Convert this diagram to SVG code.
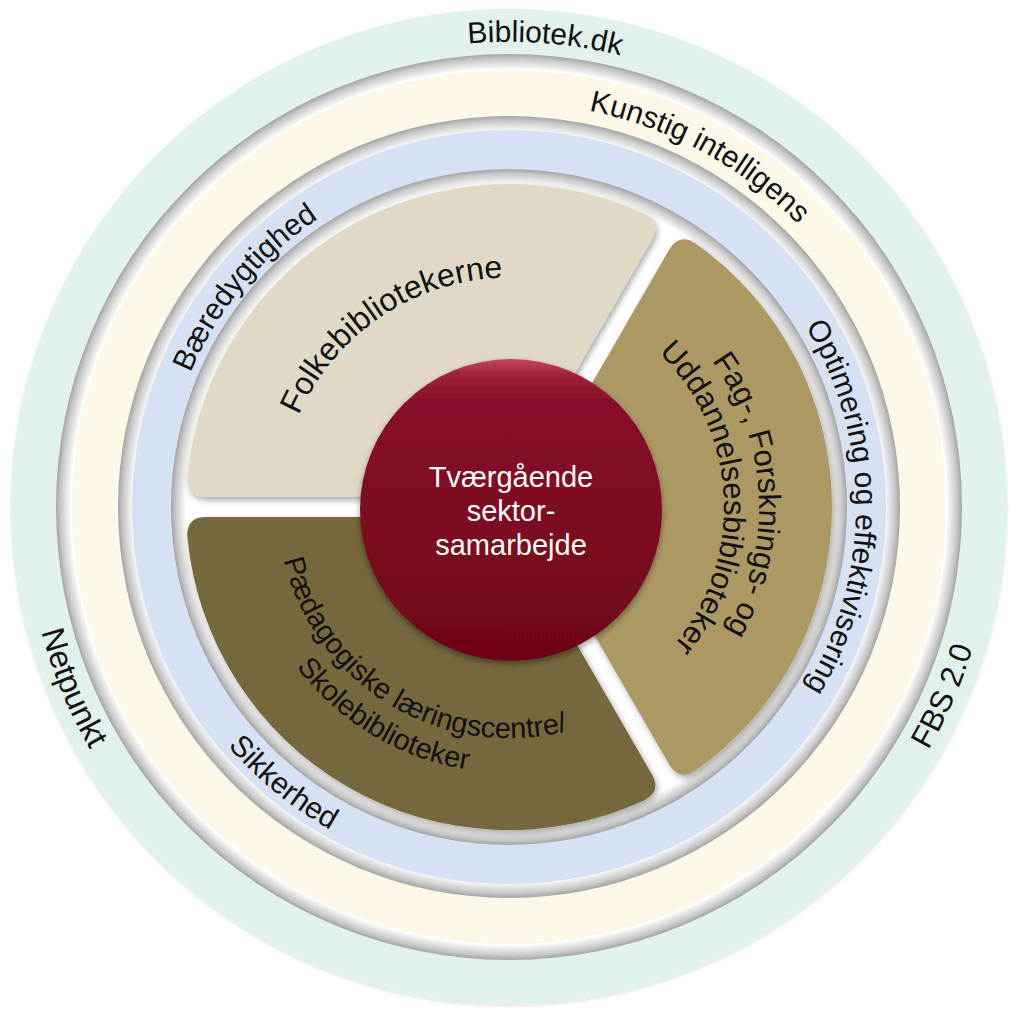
<svg xmlns="http://www.w3.org/2000/svg" xmlns:xlink="http://www.w3.org/1999/xlink" width="1010" height="1014" viewBox="0 0 1010 1014">
<style>
  .t { font-family: "Liberation Sans", Arial, sans-serif; fill: #111; }
  .ring { font-size: 30px; }
  .sec { font-size: 30px; }
  .ctr { font-family: "Liberation Sans", Arial, sans-serif; font-size: 29px; fill: #fff; text-anchor: middle; }
</style>
<defs>
  <radialGradient id="sg1" gradientUnits="userSpaceOnUse" cx="509" cy="507" r="453">
    <stop offset="0.966" stop-color="#000" stop-opacity="0"/>
    <stop offset="0.99" stop-color="#000" stop-opacity="0.22"/>
    <stop offset="1" stop-color="#000" stop-opacity="0.36"/>
  </radialGradient>
  <radialGradient id="sg2" gradientUnits="userSpaceOnUse" cx="509" cy="507" r="391">
    <stop offset="0.96" stop-color="#000" stop-opacity="0"/>
    <stop offset="0.988" stop-color="#000" stop-opacity="0.22"/>
    <stop offset="1" stop-color="#000" stop-opacity="0.36"/>
  </radialGradient>
  <radialGradient id="sg3" gradientUnits="userSpaceOnUse" cx="509" cy="507" r="338">
    <stop offset="0.955" stop-color="#000" stop-opacity="0"/>
    <stop offset="0.986" stop-color="#000" stop-opacity="0.22"/>
    <stop offset="1" stop-color="#000" stop-opacity="0.36"/>
  </radialGradient>
  <linearGradient id="red" x1="0" y1="0" x2="0" y2="1">
    <stop offset="0" stop-color="#c44a61"/>
    <stop offset="0.05" stop-color="#a0223a"/>
    <stop offset="0.14" stop-color="#87102a"/>
    <stop offset="0.6" stop-color="#7c0b1f"/>
    <stop offset="1" stop-color="#6c0517"/>
  </linearGradient>
  <filter id="shadow" x="-10%" y="-10%" width="125%" height="125%">
    <feDropShadow dx="2" dy="3" stdDeviation="3" flood-color="#000" flood-opacity="0.35"/>
  </filter>
  <filter id="cshadow" x="-10%" y="-10%" width="125%" height="125%">
    <feDropShadow dx="0" dy="3" stdDeviation="3" flood-color="#000" flood-opacity="0.4"/>
  </filter>
  <filter id="oshadow" x="-5%" y="-5%" width="110%" height="110%">
    <feDropShadow dx="0" dy="1" stdDeviation="1.5" flood-color="#000" flood-opacity="0.15"/>
  </filter>
  <path id="p-bib" d="M 43.38 471.17 A 467 467 0 0 1 974.62 542.83"/>
  <path id="p-ki" d="M 153.08 313.75 A 405 405 0 0 1 864.92 700.25"/>
  <path id="p-baer" d="M 287.35 773.98 A 347 347 0 0 1 730.65 240.02"/>
  <path id="p-opt" d="M 509 160 A 347 347 0 0 1 509 854"/>
  <path id="p-sik" d="M 221.91 272.02 A 371 371 0 0 0 796.09 741.98"/>
  <path id="p-net" d="M 323.78 59.84 A 484 484 0 0 0 694.22 954.16"/>
  <path id="p-fbs" d="M 315.21 952.69 A 486 486 0 0 0 702.79 61.31"/>
  <path id="p-folk" d="M 318.32 635.61 A 230 230 0 0 1 699.68 378.39"/>
  <path id="p-fag1" d="M 495.92 257.34 A 250 250 0 0 1 522.08 756.66"/>
  <path id="p-fag2" d="M 497.75 292.29 A 215 215 0 0 1 520.25 721.71"/>
  <path id="p-paed1" d="M 310.14 387.51 A 232 232 0 0 0 707.86 626.49"/>
  <path id="p-paed2" d="M 280.99 370.00 A 266 266 0 0 0 737.01 644.00"/>
</defs>
<rect width="1010" height="1014" fill="#fff"/>

<g id="ring-outer">
  <circle cx="509" cy="507" r="498" fill="#e1f1eb" filter="url(#oshadow)"/>
  <circle cx="509" cy="507" r="453" fill="#fff"/>
  <circle cx="509" cy="507" r="453" fill="url(#sg1)"/>
  <text class="t ring"><textPath href="#p-bib" startOffset="50%" text-anchor="middle">Bibliotek.dk</textPath></text>
  <text class="t ring" style="font-size:32px"><textPath href="#p-net" startOffset="50%" text-anchor="middle">Netpunkt</textPath></text>
  <text class="t ring" style="font-size:31px"><textPath href="#p-fbs" startOffset="50%" text-anchor="middle">FBS 2.0</textPath></text>
</g>

<g id="ring-middle">
  <circle cx="509" cy="507" r="437" fill="#fdf8e7"/>
  <circle cx="509" cy="507" r="391" fill="#fff"/>
  <circle cx="509" cy="507" r="391" fill="url(#sg2)"/>
  <text class="t ring"><textPath href="#p-ki" startOffset="50%" text-anchor="middle">Kunstig intelligens</textPath></text>
</g>

<g id="ring-inner">
  <circle cx="509" cy="507" r="377" fill="#d6e2f4"/>
  <circle cx="509" cy="507" r="338" fill="#fff"/>
  <circle cx="509" cy="507" r="338" fill="url(#sg3)"/>
  <text class="t ring"><textPath href="#p-baer" startOffset="50%" text-anchor="middle">Bæredygtighed</textPath></text>
  <text class="t ring"><textPath href="#p-opt" startOffset="50%" text-anchor="middle">Optimering og effektivisering</textPath></text>
  <text class="t ring"><textPath href="#p-sik" startOffset="50%" text-anchor="middle">Sikkerhed</textPath></text>
</g>

<g id="sector-folke">
  <path d="M 503.2 497 L 206.15 497 Q 186.15 497 187.39 477.05 A 323 323 0 0 1 643.88 213.51 Q 661.77 222.41 651.77 239.73 Z" fill="#e0d9c6" filter="url(#shadow)"/>
  <text class="t sec" style="font-size:32px"><textPath href="#p-folk" startOffset="50%" text-anchor="middle">Folkebibliotekerne</textPath></text>
</g>

<g id="sector-fag">
  <path d="M 520.55 507 L 669.09 249.73 Q 679.09 232.41 695.68 243.41 A 323 323 0 0 1 695.68 770.59 Q 679.09 781.59 669.09 764.27 Z" fill="#ab9864" filter="url(#shadow)"/>
  <text class="t sec" style="font-size:31px"><textPath href="#p-fag1" startOffset="50%" text-anchor="middle">Fag-, Forsknings- og</textPath></text>
  <text class="t sec" style="font-size:31px"><textPath href="#p-fag2" startOffset="50%" text-anchor="middle">Uddannelsesbiblioteker</textPath></text>
</g>

<g id="sector-paed">
  <path d="M 503.2 517 L 651.77 774.27 Q 661.77 791.59 643.88 800.49 A 323 323 0 0 1 187.39 536.95 Q 186.15 517 206.15 517 Z" fill="#75673c" filter="url(#shadow)"/>
  <text class="t sec" style="font-size:29px"><textPath href="#p-paed1" startOffset="50%" text-anchor="middle">Pædagogiske læringscentre/</textPath></text>
  <text class="t sec" style="font-size:29px"><textPath href="#p-paed2" startOffset="50%" text-anchor="middle">Skolebiblioteker</textPath></text>
</g>

<g id="center">
  <circle cx="511" cy="510" r="151" fill="url(#red)" filter="url(#cshadow)"/>
  <text class="ctr" x="511" y="487">Tværgående</text>
  <text class="ctr" x="511" y="521">sektor-</text>
  <text class="ctr" x="511" y="555">samarbejde</text>
</g>

<g id="connectors"/>
</svg>
